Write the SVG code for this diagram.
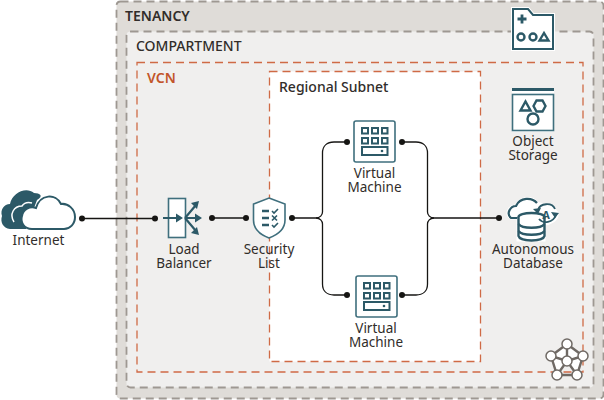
<svg xmlns="http://www.w3.org/2000/svg" width="604" height="400" viewBox="0 0 604 400">
<style>
text{font-family:"Noto Sans","Open Sans","Liberation Sans",sans-serif;font-size:13.5px;fill:#312d2a;text-anchor:middle}
.h{font-weight:500;text-anchor:start;font-size:14px}
.b{font-weight:600}
.c{fill:none;stroke:#161513;stroke-width:1.300}
.d{fill:#161513}
.i{fill:none;stroke:#2c5967;stroke-width:2.400}
.f{fill:#2c5967}
.box{fill:#fff;stroke:#3f6f7d;stroke-width:1.600}
.o{stroke:#cf6a45;stroke-width:1.300;stroke-dasharray:8 5}
.g{stroke:#9e9892;stroke-width:1.800;stroke-dasharray:8 5}
</style>
<g id="tenancy"><rect x="116.500" y="1.500" width="487" height="397" rx="4" fill="#dfdcd8" class="g"/><text class="h b" x="125" y="21">TENANCY</text></g>
<g id="compartment"><rect x="126.500" y="31.500" width="467" height="356" rx="4" fill="#f0efee" class="g"/><text class="h" x="136" y="51">COMPARTMENT</text></g>
<g id="vcn"><rect x="137" y="62.500" width="446" height="309.500" fill="none" class="o"/><text class="h b" x="147" y="83" style="fill:#c2552a">VCN</text></g>
<g id="subnet"><rect x="269.500" y="71.500" width="211" height="290" fill="#fff" class="o"/><text class="h" x="279" y="92">Regional Subnet</text></g>
<g id="connectors">
<path class="c" d="M82 218.500H155"/><circle class="d" cx="82" cy="218.500" r="3"/><circle class="d" cx="155" cy="218.500" r="3"/>
<path class="c" d="M212 218H246"/><circle class="d" cx="212" cy="218" r="3"/><circle class="d" cx="246" cy="218" r="3"/>
<path class="c" d="M292 218H316C320 218 322.500 215 322.500 212V153C322.500 146 327 142 334 142H347"/>
<path class="c" d="M316 218C320 218 322.500 221 322.500 224V284C322.500 291 327 295 334 295H347"/>
<circle class="d" cx="292" cy="218" r="3"/><circle class="d" cx="347" cy="142" r="3"/><circle class="d" cx="347" cy="295" r="3"/>
<path class="c" d="M402 142H416C423 142 427.500 146 427.500 153V212C427.500 215 430 218 434 218H499"/>
<path class="c" d="M402 295H416C423 295 427.500 291 427.500 284V224C427.500 221 430 218 434 218"/>
<circle class="d" cx="402" cy="142" r="3"/><circle class="d" cx="402" cy="295" r="3"/><circle class="d" cx="499" cy="218" r="3"/>
</g>
<g id="internet">
<path class="f" d="M10 229C3 228 0 222 2 216C0 210 4 204 10 204C12 193 26 186 34 193C40 193 44 196 37 200L26 229Z"/>
<path d="M14 222C9 214 14 206 22 206C24 203 28 202 32 203" fill="none" stroke="#fff" stroke-width="1.500"/>
<path d="M32 229C24 229 20 222 22 216C23 209 30 206 36 208C40 194 56 193 61 204C68 203 75 209 75 217C75 224 70 229 64 229Z" fill="#fff" stroke="#2c5967" stroke-width="2"/>
<text x="38.500" y="245">Internet</text>
</g>
<g id="load-balancer">
<rect x="168.500" y="198.500" width="17" height="39" class="box"/>
<path d="M163 218H180M185 218H199M185 218L196 205M185 218L196 231" fill="none" stroke="#2c5967" stroke-width="2.200"/>
<path class="f" d="M183 218l-7-4.500v9zM202 218l-7-4.500v9zM199 201l-8 2 6 6zM199 235l-8-2 6-6z"/>
<text x="184" y="254">Load<tspan x="184" dy="14">Balancer</tspan></text>
</g>
<g id="security-list">
<path d="M269 198L285 204V220C285 229 277 235 269 238C261 235 253.500 229 253.500 220V204Z" class="box"/>
<path d="M262 211H269M262 218H269M262 225H269" class="i"/>
<path d="M272 211l2 2 4-4M272 225l2 2 4-4M272 215.500l5 5M277 215.500l-5 5" class="i" style="stroke-width:1.600"/>
<text x="269" y="254">Security<tspan x="269" dy="14">List</tspan></text>
</g>
<g id="vm-1">
<rect x="354" y="121" width="41" height="41" rx="2" class="box"/>
<path class="f" fill-rule="evenodd" d="M361 127h8v7.500h-8zM363 129v3.500h4v-3.500zM371 127h8v7.500h-8zM373 129v3.500h4v-3.500zM381 127h7.500v7.500h-7.500zM383 129v3.500h3.500v-3.500zM361 137h8v7.500h-8zM363 139v3.500h4v-3.500zM371 137h8v7.500h-8zM373 139v3.500h4v-3.500zM381 137h7.500v7.500h-7.500zM383 139v3.500h3.500v-3.500zM361 146h27.500v10h-27.500zM363 148v6h23.500v-6z"/>
<circle class="f" cx="382" cy="151" r="1.300"/>
<text x="374.500" y="178">Virtual<tspan x="374.500" dy="14">Machine</tspan></text>
</g>
<g id="vm-2">
<rect x="356" y="276" width="41" height="41" rx="2" class="box"/>
<path class="f" fill-rule="evenodd" d="M363 282h8v7.500h-8zM365 284v3.500h4v-3.500zM373 282h8v7.500h-8zM375 284v3.500h4v-3.500zM383 282h7.500v7.500h-7.500zM385 284v3.500h3.500v-3.500zM363 292h8v7.500h-8zM365 294v3.500h4v-3.500zM373 292h8v7.500h-8zM375 294v3.500h4v-3.500zM383 292h7.500v7.500h-7.500zM385 294v3.500h3.500v-3.500zM363 301h27.500v10h-27.500zM365 303v6h23.500v-6z"/>
<circle class="f" cx="384" cy="306" r="1.300"/>
<text x="376" y="333">Virtual<tspan x="376" dy="14">Machine</tspan></text>
</g>
<g id="compartment-icon">
<path d="M513 9H528L533 15H553V49H513Z" fill="#fff" stroke="#fff" stroke-width="4"/>
<path d="M513 9H528L533 15H553V49H513Z" fill="#fff" stroke="#2c5967" stroke-width="2"/>
<path d="M522 14.500v9M517.500 19h9" class="i" style="stroke-width:2.800"/>
<circle class="i" cx="521" cy="37" r="3.500"/><circle class="i" cx="533" cy="37" r="3.500"/>
<path class="i" d="M539.500 40.500l4.500-7.500 4.500 7.500z"/>
</g>
<g id="object-storage">
<rect x="512" y="88" width="42" height="44" fill="#fff"/>
<rect x="512" y="88" width="42" height="3" class="f"/>
<rect x="512.500" y="94.500" width="41" height="36" class="box"/>
<path class="i" d="M520.500 110.500l5-9 5 9z"/>
<path class="i" d="M533.500 106l3-5.500h6l3 5.500-3 5.500h-6z"/>
<circle class="i" cx="533" cy="119" r="5.500"/>
<text x="533" y="146">Object<tspan x="533" dy="14">Storage</tspan></text>
</g>
<g id="autonomous-database">
<path d="M518 218H511C505 214 509 206 516 206C520 197 532 196 537 203C543 206 552 204 557 213C558 220 550 224 544 224V240H518Z" fill="#fff" stroke="#fff" stroke-width="3"/>
<path d="M517 218H511C506 214 510 206 516 206C520 197 532 197 537 203" fill="none" stroke="#2c5967" stroke-width="2.200"/>
<g fill="#fff" stroke="#2c5967" stroke-width="2.400"><ellipse cx="531.500" cy="217" rx="13" ry="4"/><path d="M518.500 217V236C520 242 543 242 544.500 236V217"/></g>
<path class="i" d="M518.500 224C522 229 541 229 544.500 224M518.500 231C522 236 541 236 544.500 231"/>
<path class="i" d="M538 210C540 203 552 202 555 209M556 215C553 223 543 224 539 219" style="stroke-width:1.800"/>
<path class="f" d="M533 209l8-1-3 6zM559 213l-8-1 4 6z"/>
<text x="546" y="219" style="font-size:11px;font-weight:700;fill:#2c5967">A</text>
<text x="533" y="254">Autonomous<tspan x="533" dy="14">Database</tspan></text>
</g>
<g id="network-icon" stroke="#6f6964" fill="#fff">
<path d="M567 344L583 356 577 375H557L551 356ZM567 344V361M583 356L567 361 551 356M577 375L567 361 557 375" stroke-width="2.400"/>
<g stroke-width="1.500"><circle cx="567" cy="344" r="5"/><circle cx="551" cy="356" r="5"/><circle cx="583" cy="356" r="5"/><circle cx="567" cy="361" r="5"/><circle cx="557" cy="375" r="5"/><circle cx="577" cy="375" r="5"/></g>
</g>
</svg>
